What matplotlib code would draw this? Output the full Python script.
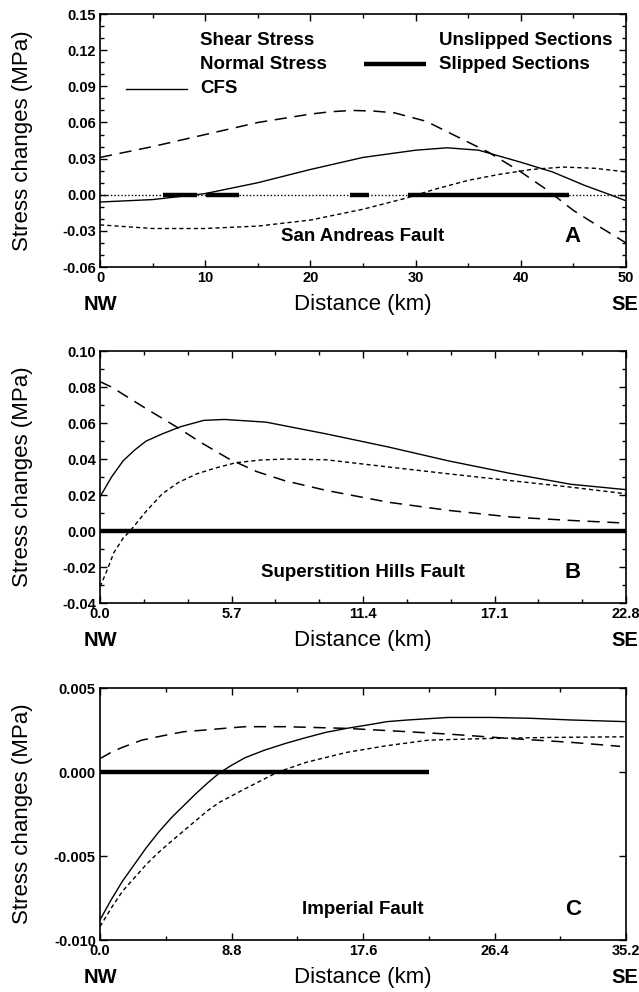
"""Coulomb stress changes along three faults (San Andreas, Superstition Hills, Imperial)."""

import matplotlib

matplotlib.use("Agg")
import matplotlib.pyplot as plt
from matplotlib.ticker import FixedLocator, FormatStrFormatter, MultipleLocator

plt.rcParams["font.family"] = ["Liberation Sans", "DejaVu Sans"]
plt.rcParams["axes.unicode_minus"] = False

# --- Panel A: San Andreas Fault (km, MPa) ---
a_shear_x = [0, 5, 10, 15, 20, 22, 24, 26, 28, 31, 34, 37, 40, 42.5, 45, 47, 50]
a_shear_y = [0.031, 0.040, 0.050, 0.060, 0.067, 0.069, 0.070, 0.0695, 0.068,
             0.061, 0.048, 0.035, 0.019, 0.004, -0.013, -0.024, -0.040]
a_normal_x = [0, 5, 10, 15, 20, 25, 29, 32, 35, 38, 41, 44, 47, 50]
a_normal_y = [-0.025, -0.028, -0.028, -0.026, -0.021, -0.012, -0.003, 0.005,
              0.012, 0.017, 0.021, 0.023, 0.022, 0.019]
a_cfs_x = [0, 5, 10, 15, 20, 25, 30, 33, 36, 40, 43, 46, 48.5, 50]
a_cfs_y = [-0.006, -0.004, 0.001, 0.010, 0.021, 0.031, 0.037, 0.039, 0.037,
           0.027, 0.019, 0.008, 0.0, -0.005]
a_slipped = [(6.0, 9.2), (10.1, 13.2), (23.8, 25.6), (29.3, 44.6)]

# --- Panel B: Superstition Hills Fault ---
b_shear_x = [0, 0.5, 1.0, 2.0, 3.3, 4.4, 5.6, 6.8, 8.0, 9.8, 12.5, 15.1,
             17.8, 20.4, 22.5]
b_shear_y = [0.083, 0.080, 0.076, 0.068, 0.058, 0.049, 0.040, 0.033, 0.028,
             0.0226, 0.016, 0.0115, 0.0078, 0.0059, 0.0046]
b_normal_x = [0, 0.3, 0.6, 1.0, 1.3, 2.0, 2.7, 3.4, 4.2, 5.0, 5.9, 7.0, 8.0,
              9.8, 12.5, 15.1, 17.8, 20.4, 22.8]
b_normal_y = [-0.031, -0.022, -0.012, -0.004, 0.0, 0.011, 0.0207, 0.027,
              0.0318, 0.035, 0.038, 0.0395, 0.040, 0.0396, 0.0356, 0.0318,
              0.028, 0.0244, 0.0207]
b_cfs_x = [0, 0.5, 1.0, 1.5, 2.0, 2.7, 3.5, 4.5, 5.4, 7.2, 9.8, 12.5, 15.1,
           17.8, 20.4, 22.8]
b_cfs_y = [0.019, 0.030, 0.039, 0.045, 0.050, 0.054, 0.058, 0.0615, 0.062,
           0.0605, 0.054, 0.0467, 0.039, 0.032, 0.026, 0.023]
b_slipped = [(0.0, 22.8)]

# --- Panel C: Imperial Fault ---
c_shear_x = [0, 0.8, 1.5, 2.8, 4.2, 5.6, 7.0, 8.3, 9.7, 12.4, 16.5, 20.6,
             23.3, 27.4, 31.5, 34.8]
c_shear_y = [0.0008, 0.0012, 0.00147, 0.0019, 0.00216, 0.0024, 0.0025,
             0.0026, 0.0027, 0.0027, 0.0026, 0.0024, 0.00226, 0.0020,
             0.00177, 0.00153]
c_normal_x = [0, 0.75, 1.5, 2.3, 3.1, 3.9, 4.8, 5.6, 6.4, 7.2, 8.0, 9.7, 11.9,
              13.8, 16.5, 19.2, 22.0, 26.1, 30.1, 35.2]
c_normal_y = [-0.0092, -0.0081, -0.0071, -0.0063, -0.0055, -0.0048, -0.0041,
              -0.0035, -0.0029, -0.0023, -0.0018, -0.0010, 0.0, 0.00058,
              0.00117, 0.00157, 0.0019, 0.0020, 0.00206, 0.0021]
c_cfs_x = [0, 0.75, 1.5, 2.3, 3.1, 3.9, 4.8, 5.6, 6.4, 7.2, 8.0, 8.8, 9.7,
           11.0, 12.4, 13.7, 15.1, 16.5, 17.9, 19.2, 20.6, 23.3, 26.1, 28.8,
           31.5, 35.2]
c_cfs_y = [-0.0088, -0.0076, -0.0065, -0.0055, -0.0045, -0.0036, -0.0027,
           -0.0020, -0.0013, -0.00065, -0.00005, 0.0004, 0.00085, 0.0013,
           0.0017, 0.00203, 0.00236, 0.0026, 0.0028, 0.0030, 0.0031, 0.00325,
           0.00325, 0.0032, 0.0031, 0.0030]
c_slipped = [(0.0, 22.0)]

# --- axes settings ---
a_xticks = [0, 10, 20, 30, 40, 50]
b_xticks = [0.0, 5.7, 11.4, 17.1, 22.8]
c_xticks = [0.0, 8.8, 17.6, 26.4, 35.2]
a_ylim = (-0.06, 0.15)
b_ylim = (-0.04, 0.10)
c_ylim = (-0.010, 0.005)

SHEAR = dict(color="black", lw=1.1, ls=(0, (8, 5)))
NORMAL = dict(color="black", lw=1.0, ls=(0, (3, 2.2)))
CFS = dict(color="black", lw=1.0, ls="-")
SLIP = dict(color="black", lw=3.2, solid_capstyle="butt")


def style_axes(ax, xticks, xminor, xfmt, ylim, ymajor, yminor, yfmt):
    ax.set_xlim(xticks[0], xticks[-1])
    ax.set_ylim(*ylim)
    ax.xaxis.set_major_locator(FixedLocator(xticks))
    ax.xaxis.set_minor_locator(FixedLocator(xminor))
    ax.xaxis.set_major_formatter(FormatStrFormatter(xfmt))
    ax.yaxis.set_major_locator(MultipleLocator(ymajor))
    if yminor:
        ax.yaxis.set_minor_locator(MultipleLocator(yminor))
    ax.yaxis.set_major_formatter(FormatStrFormatter(yfmt))
    ax.tick_params(which="both", direction="in", top=True, right=True,
                   width=1.0, labelsize=10.5, pad=3)
    ax.tick_params(which="major", length=5)
    ax.tick_params(which="minor", length=3)
    for lab in ax.get_xticklabels() + ax.get_yticklabels():
        lab.set_fontweight("bold")
    for sp in ax.spines.values():
        sp.set_linewidth(1.2)
    ax.set_ylabel("Stress changes (MPa)", fontsize=16)
    ax.yaxis.set_label_coords(-0.127, 0.5)
    ax.text(0.5, -0.15, "Distance (km)", transform=ax.transAxes, ha="center",
            va="center", fontsize=16)
    ax.text(0.0, -0.15, "NW", transform=ax.transAxes, ha="center",
            va="center", fontsize=14.5, fontweight="bold")
    # SE sits flush with the right edge of the figure
    ax.text(1.0228, -0.15, "SE", transform=ax.transAxes, ha="right",
            va="center", fontsize=14.5, fontweight="bold")


def draw_panel(ax, shear, normal, cfs, slipped, name, letter, unslipped):
    ax.plot(*shear, **SHEAR)
    ax.plot(*normal, **NORMAL)
    ax.plot(*cfs, **CFS)
    if unslipped:
        ax.plot(ax.get_xlim(), [0, 0], color="black", lw=1.0, ls=(0, (1, 1.5)))
    for x0, x1 in slipped:
        ax.plot([x0, x1], [0, 0], **SLIP)
    ax.text(0.5, 0.12, name, transform=ax.transAxes, ha="center", va="center",
            fontsize=13.5, fontweight="bold")
    ax.text(0.899, 0.12, letter, transform=ax.transAxes, ha="center",
            va="center", fontsize=16, fontweight="bold")


fig = plt.figure(figsize=(6.39, 9.92), dpi=100)
ax_a = fig.add_axes([0.1565, 0.7308, 0.8232, 0.2550])
ax_b = fig.add_axes([0.1565, 0.3921, 0.8232, 0.2540])
ax_c = fig.add_axes([0.1565, 0.0524, 0.8232, 0.2540])

style_axes(ax_a, a_xticks, list(range(0, 51, 5)), "%g", a_ylim, 0.03, 0.01, "%.2f")
style_axes(ax_b, b_xticks, [i * 1.9 for i in range(13)], "%.1f", b_ylim, 0.02, 0.01, "%.2f")
style_axes(ax_c, c_xticks, [i * 4.4 for i in range(9)], "%.1f", c_ylim, 0.005, None, "%.3f")

draw_panel(ax_a, (a_shear_x, a_shear_y), (a_normal_x, a_normal_y),
           (a_cfs_x, a_cfs_y), a_slipped, "San Andreas Fault", "A", True)
draw_panel(ax_b, (b_shear_x, b_shear_y), (b_normal_x, b_normal_y),
           (b_cfs_x, b_cfs_y), b_slipped, "Superstition Hills Fault", "B", False)
draw_panel(ax_c, (c_shear_x, c_shear_y), (c_normal_x, c_normal_y),
           (c_cfs_x, c_cfs_y), c_slipped, "Imperial Fault", "C", False)

# legend (panel A), drawn by hand as in the original figure
legend_kw = dict(transform=ax_a.transAxes, va="center", fontsize=13.5,
                 fontweight="bold")
ax_a.text(0.190, 0.897, "Shear Stress", **legend_kw)
ax_a.text(0.190, 0.802, "Normal Stress", **legend_kw)
ax_a.text(0.190, 0.704, "CFS", **legend_kw)
ax_a.text(0.644, 0.897, "Unslipped Sections", **legend_kw)
ax_a.text(0.644, 0.802, "Slipped Sections", **legend_kw)
ax_a.plot([0.050, 0.166], [0.704, 0.704], transform=ax_a.transAxes, **CFS)
ax_a.plot([0.501, 0.620], [0.802, 0.802], transform=ax_a.transAxes, **SLIP)

fig.savefig("out.png", dpi=100)
